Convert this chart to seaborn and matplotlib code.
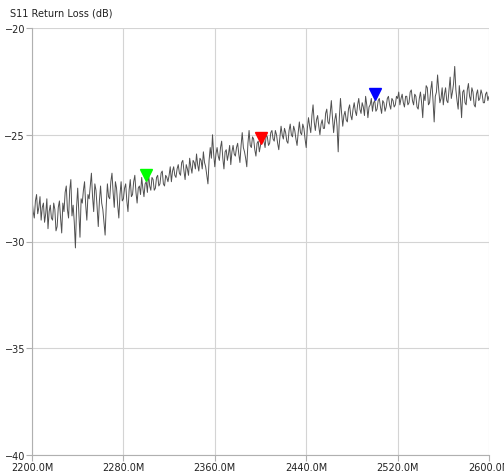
import matplotlib
matplotlib.use("Agg")
import matplotlib.pyplot as plt
import matplotlib.transforms as mtransforms
import numpy as np
import seaborn as sns

# S11 sweep (every 1 MHz from 2200M to 2600M)
s11 = [
    -28.0, -28.6, -28.9, -28.1, -27.8, -28.7, -28.4, -27.9, -29.0, -28.4,
    -28.2, -29.1, -28.7, -28.0, -29.4, -28.6, -28.3, -28.9, -29.0, -28.2,
    -28.5, -29.5, -29.3, -28.4, -28.1, -28.9, -29.6, -28.2, -28.6, -27.7,
    -27.4, -28.5, -28.9, -27.6, -27.1, -28.8, -28.3, -29.1, -30.3, -28.4,
    # 2240
    -27.5, -28.7, -29.8, -28.0, -28.2, -27.6, -27.2, -28.3, -29.0, -27.8,
    -28.0, -27.4, -26.8, -27.9, -28.6, -27.3, -27.6, -28.4, -29.3, -28.1,
    -27.4, -28.2, -28.5, -29.1, -29.7, -28.3, -27.3, -27.9, -28.0, -27.2,
    -26.8, -27.7, -28.4, -27.2, -27.5, -28.3, -28.9, -27.8, -27.2, -28.1,
    # 2280
    -28.0, -27.5, -27.3, -28.1, -28.6, -27.6, -27.1, -27.9, -27.8, -27.2,
    -26.9, -27.7, -28.2, -27.5, -27.4, -27.8, -27.0, -27.5, -27.9, -27.3,
    -27.2, -27.7, -26.8, -27.4, -27.6, -27.0, -27.1, -27.6, -27.5, -27.0,
    -26.9, -27.4, -27.3, -26.8, -26.7, -27.3, -27.4, -26.9, -27.0, -27.2,
    # 2320
    -26.9, -26.5, -27.2, -26.7, -26.5, -26.9, -27.0, -26.6, -26.4, -26.8,
    -26.9, -26.3, -26.2, -26.7, -27.1, -26.4, -26.6, -26.9, -26.1, -26.5,
    -26.8, -26.2, -26.3, -26.6, -25.9, -26.4, -26.7, -26.1, -26.2, -26.6,
    -25.8, -26.3, -26.5, -26.9, -27.3, -26.2, -25.6, -26.1, -25.0, -25.9,
    # 2360
    -26.5, -25.9, -25.6, -26.0, -26.2, -25.6, -25.3, -26.1, -26.6, -25.8,
    -25.7, -26.2, -25.9, -25.5, -26.4, -25.8, -25.5, -25.9, -26.0, -25.6,
    -25.4, -25.9, -26.3, -25.5, -24.9, -25.6, -25.8, -26.1, -26.5, -25.4,
    -24.8, -25.5, -25.6, -25.1, -25.2, -25.7, -26.0, -25.4, -25.3, -25.8,
    # 2400
    -25.5, -25.1, -24.9, -25.3, -25.6, -25.0, -25.1, -25.5, -25.4, -24.9,
    -24.8, -25.2, -25.3, -24.8, -25.0, -25.4, -25.7, -25.1, -24.6, -25.0,
    -25.2, -24.7, -24.9, -25.3, -25.4, -24.8, -24.5, -25.0, -25.1, -24.6,
    -24.8, -25.2, -25.5, -24.9, -24.4, -24.9, -25.0, -24.5, -24.7, -25.2,
    # 2440
    -25.6, -24.7, -24.2, -24.6, -24.9, -24.1, -23.6, -24.4, -24.8, -24.3,
    -24.1, -24.6, -25.0, -24.5, -24.3, -24.7, -24.7, -24.0, -23.8, -24.4,
    -24.5, -24.0, -23.4, -24.2, -24.9, -24.3, -24.0, -24.6, -25.8, -24.2,
    -23.3, -24.0, -24.6, -24.1, -23.9, -24.3, -24.4, -23.8, -23.6, -24.1,
    # 2480
    -24.3, -23.8, -23.5, -23.9, -24.1, -23.6, -23.3, -23.8, -24.0, -23.5,
    -23.7, -24.1, -23.2, -23.6, -24.2, -23.7, -23.6, -23.3, -23.9, -23.5,
    -23.4, -23.9, -23.8, -23.4, -23.3, -23.7, -24.0, -23.4, -23.5, -23.9,
    -23.7, -23.3, -23.2, -23.6, -23.8, -23.3, -23.4, -23.7, -23.6, -23.2,
    # 2520
    -23.3, -23.0, -23.6, -23.3, -23.1, -23.5, -23.7, -23.2, -23.2, -23.6,
    -23.5, -23.0, -22.9, -23.4, -23.6, -23.1, -23.2, -23.7, -23.8, -23.3,
    -23.0, -23.5, -24.2, -23.1, -23.4, -22.7, -22.8, -23.6, -23.5, -22.9,
    -22.5, -23.4, -24.4, -23.2, -23.0, -22.2, -22.9, -23.5, -23.3, -22.8,
    # 2560
    -23.6, -23.1, -22.8, -23.4, -23.5, -22.9, -22.3, -23.3, -23.0, -22.6,
    -21.8, -22.9, -23.4, -23.8, -22.7, -23.3, -24.2, -23.0, -22.9, -23.5,
    -23.6, -22.9, -22.6, -23.2, -23.4, -22.8, -23.0, -23.6, -23.7, -23.1,
    -22.9, -23.4, -23.3, -22.9, -23.1, -23.5, -23.5, -23.1, -23.0, -23.4,
    -23.2,
]
freq = np.linspace(2200, 2600, len(s11))

# markers
marker_freq = [2300, 2400, 2500]
marker_color = ["#00ff00", "#ff0000", "#0000ff"]

x_ticks = [2200, 2280, 2360, 2440, 2520, 2600]
x_labels = ["2200.0M", "2280.0M", "2360.0M", "2440.0M", "2520.0M", "2600.0M"]
y_ticks = [-40, -35, -30, -25, -20]

sns.set_style("white")
plt.rcParams["font.family"] = ["DejaVu Sans"]

fig = plt.figure(figsize=(5.04, 4.77), dpi=100)
ax = fig.add_axes([32 / 504, 1 - 456 / 477, (489 - 32) / 504, (456 - 29) / 477])

sns.lineplot(x=freq, y=s11, color="#505050", linewidth=0.7, ax=ax)

# triangles sit just above the trace, tip on the point
offset = mtransforms.ScaledTranslation(0, 5 / 72, fig.dpi_scale_trans)
for f, c in zip(marker_freq, marker_color):
    i = int(np.argmin(np.abs(freq - f)))
    ax.plot(freq[i], s11[i], marker="v", markersize=9, color=c,
            transform=ax.transData + offset, clip_on=False, zorder=5)

ax.set_xlim(2200, 2600)
ax.set_ylim(-40, -20)
ax.set_xticks(x_ticks)
ax.set_xticklabels(x_labels)
ax.set_yticks(y_ticks)
ax.grid(True, color="#d4d4d4", linewidth=0.8)
ax.set_axisbelow(True)
for side in ["top", "right"]:
    ax.spines[side].set_visible(False)
for side in ["left", "bottom"]:
    ax.spines[side].set_color("#b0b0b0")
    ax.spines[side].set_linewidth(0.8)
ax.tick_params(axis="both", labelsize=7, colors="#b0b0b0", labelcolor="#222222",
               length=4, width=0.8, pad=1, direction="out", left=True, bottom=True)

fig.text(10 / 504, 1 - 13 / 477, "S11 Return Loss (dB)", fontsize=7,
         color="#222222", va="center", ha="left")

fig.savefig("out.png", dpi=100, facecolor="white")
